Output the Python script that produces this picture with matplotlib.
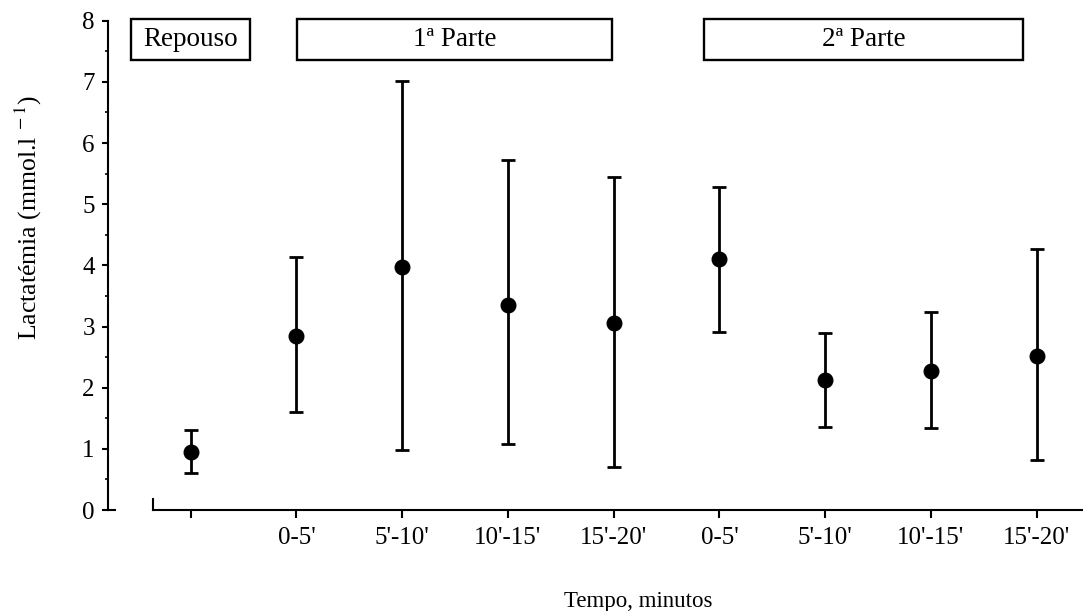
import matplotlib
matplotlib.use("Agg")
import numpy as np
import matplotlib.pyplot as plt
from matplotlib.patches import Rectangle
from matplotlib.ticker import MultipleLocator

# dados
rotulos = ["", "0-5'", "5'-10'", "10'-15'", "15'-20'", "0-5'", "5'-10'", "10'-15'", "15'-20'"]
medias = [0.95, 2.84, 3.97, 3.36, 3.05, 4.10, 2.12, 2.28, 2.52]
superior = [1.30, 4.13, 7.02, 5.72, 5.44, 5.28, 2.90, 3.23, 4.27]
inferior = [0.61, 1.60, 0.98, 1.08, 0.71, 2.91, 1.36, 1.34, 0.81]

fases = ["Repouso", "1ª Parte", "2ª Parte"]
# limites (x) de cada caixa de fase
caixas_x = [(-0.565, 0.561), (1.005, 3.98), (4.855, 7.87)]

plt.rcParams['font.family'] = ['Liberation Serif', 'DejaVu Serif']
plt.rcParams['mathtext.fontset'] = 'stix'

x = np.arange(len(medias))
medias = np.array(medias)
erro = [medias - np.array(inferior), np.array(superior) - medias]

fig = plt.figure(figsize=(10.83, 6.11), dpi=100)
ax = fig.add_axes([0.0997, 0.1653, 0.9003, 0.8008])

ax.errorbar(x, medias, yerr=erro, fmt='o', color='black', ms=10.5,
            elinewidth=2, capsize=5, capthick=2, clip_on=False)

ax.set_xlim(-0.782, 8.438)
ax.set_ylim(0, 8)

# eixos
for lado in ['top', 'right']:
    ax.spines[lado].set_visible(False)
ax.spines['left'].set_linewidth(1.5)
ax.spines['bottom'].set_linewidth(1.5)
ax.spines['bottom'].set_bounds(-0.357, 8.438)
ax.plot([-0.357, -0.357], [0, 0.18], color='black', lw=1.5, clip_on=False)
ax.plot([-0.782, -0.72], [0, 0], color='black', lw=1.5, clip_on=False)

ax.set_xticks(x)
ax.set_xticklabels(rotulos, fontsize=18)
ax.tick_params(axis='x', direction='out', length=6, width=1.5, pad=6)

ax.yaxis.set_major_locator(MultipleLocator(1))
ax.yaxis.set_minor_locator(MultipleLocator(0.5))
ax.tick_params(axis='y', which='major', direction='out', length=4.5, width=1.5,
               labelsize=18, pad=5)
ax.tick_params(axis='y', which='minor', direction='out', length=2.5, width=1.2)

ax.set_xlabel("Tempo, minutos", fontsize=16.5)
ax.xaxis.set_label_coords(0.5436, -0.186)
ax.xaxis.label.set_va('center')

ax.set_ylabel(r"Lactatémia (mmol.l$^{\ -1}$)", fontsize=18.5)
ax.yaxis.set_label_coords(-0.082, 0.597)
ax.yaxis.label.set_va('center')

# caixas das fases
for nome, (x0, x1) in zip(fases, caixas_x):
    ax.add_patch(Rectangle((x0, 7.35), x1 - x0, 0.68, fill=False,
                           edgecolor='black', lw=1.7, clip_on=False))
    ax.text((x0 + x1) / 2, 7.69, nome, ha='center', va='center',
            fontsize=19.5, clip_on=False)

fig.savefig("out.png", dpi=100)
